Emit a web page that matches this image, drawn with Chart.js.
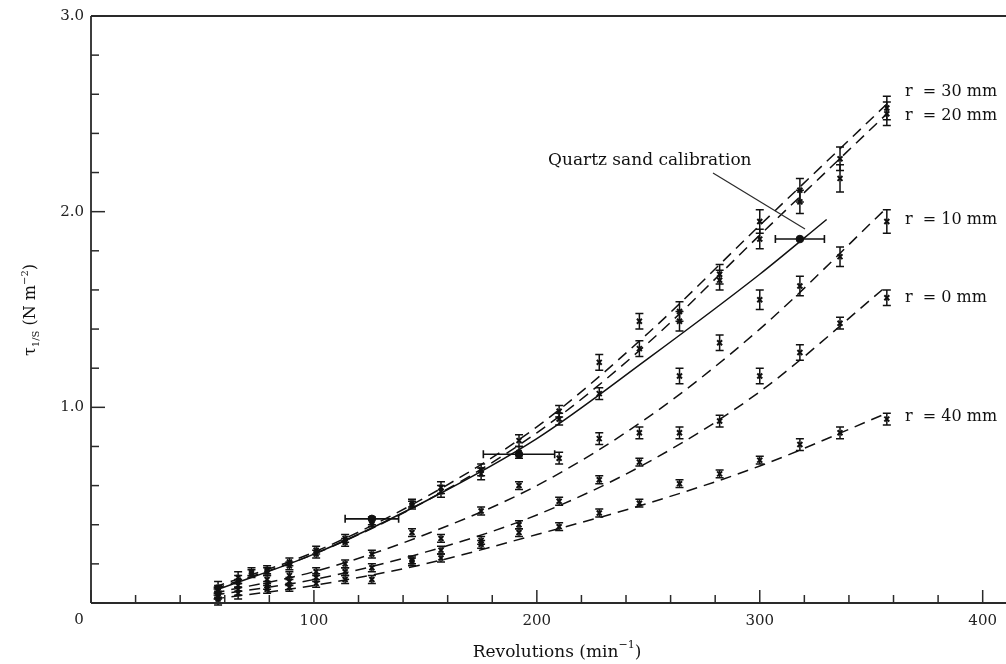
<!DOCTYPE html>
<html><head><meta charset="utf-8">
<script src="https://cdn.jsdelivr.net/npm/chart.js@4.4.1/dist/chart.umd.min.js"></script>
<style>html,body{margin:0;padding:0;background:#fff;}canvas{display:block;}</style>
</head><body>
<canvas id="c" width="1006" height="664"></canvas>
<script>
// ---------- data ----------
const revsA = [57, 66, 72, 79, 89, 101, 114, 126, 144, 157, 175, 192, 210, 228, 246, 264, 282, 300, 318, 336, 357];
const revsB = [57, 66, 79, 89, 101, 114, 126, 144, 157, 175, 192, 210, 228, 246, 264, 282, 300, 318, 336, 357];

const r30Y   = [0.08, 0.13, 0.16, 0.17, 0.21, 0.27, 0.33, 0.42, 0.51, 0.59, 0.68, 0.83, 0.98, 1.23, 1.44, 1.49, 1.68, 1.95, 2.11, 2.27, 2.53];
const r30Err = [0.03, 0.03, 0.02, 0.02, 0.02, 0.02, 0.02, 0.02, 0.02, 0.03, 0.03, 0.03, 0.03, 0.04, 0.04, 0.05, 0.05, 0.06, 0.06, 0.06, 0.06];
const r20Y   = [0.06, 0.11, 0.15, 0.16, 0.19, 0.25, 0.31, 0.41, 0.50, 0.57, 0.66, 0.77, 0.94, 1.07, 1.30, 1.44, 1.65, 1.86, 2.05, 2.17, 2.50];
const r20Err = [0.03, 0.03, 0.02, 0.02, 0.02, 0.02, 0.02, 0.02, 0.02, 0.03, 0.03, 0.03, 0.03, 0.03, 0.04, 0.05, 0.05, 0.05, 0.06, 0.07, 0.06];
const r10Y   = [0.05, 0.09, 0.12, 0.14, 0.16, 0.20, 0.25, 0.36, 0.33, 0.47, 0.60, 0.74, 0.84, 0.87, 1.16, 1.33, 1.55, 1.62, 1.77, 1.95];
const r10Err = [0.03, 0.03, 0.02, 0.02, 0.02, 0.02, 0.02, 0.02, 0.02, 0.02, 0.02, 0.03, 0.03, 0.03, 0.04, 0.04, 0.05, 0.05, 0.05, 0.06];
const r0Y    = [0.03, 0.07, 0.09, 0.11, 0.13, 0.16, 0.18, 0.22, 0.27, 0.32, 0.40, 0.52, 0.63, 0.72, 0.87, 0.93, 1.16, 1.28, 1.43, 1.56];
const r0Err  = [0.03, 0.03, 0.02, 0.02, 0.02, 0.02, 0.02, 0.02, 0.02, 0.02, 0.02, 0.02, 0.02, 0.02, 0.03, 0.03, 0.04, 0.04, 0.03, 0.04];
const r40Y   = [0.02, 0.05, 0.07, 0.08, 0.10, 0.12, 0.12, 0.21, 0.23, 0.30, 0.36, 0.39, 0.46, 0.51, 0.61, 0.66, 0.73, 0.81, 0.87, 0.94];
const r40Err = [0.03, 0.03, 0.02, 0.02, 0.02, 0.02, 0.02, 0.02, 0.02, 0.02, 0.02, 0.02, 0.02, 0.02, 0.02, 0.02, 0.02, 0.03, 0.03, 0.03];

// fitted (dashed) curves, read at these revolutions
const fitX   = [55, 100, 150, 200, 250, 300, 357];
const r30Fit = [0.08, 0.26, 0.54, 0.90, 1.38, 1.93, 2.55];
const r20Fit = [0.07, 0.25, 0.52, 0.87, 1.33, 1.88, 2.50];
const r10Fit = [0.05, 0.16, 0.35, 0.60, 0.95, 1.40, 2.02];
const r0Fit  = [0.04, 0.12, 0.26, 0.45, 0.72, 1.08, 1.62];
const r40Fit = [0.02, 0.09, 0.20, 0.35, 0.51, 0.70, 0.97];

// quartz sand calibration (solid curve + points with horizontal error bars)
const calLineX = [57, 100, 150, 200, 250, 300, 330];
const calLineY = [0.07, 0.25, 0.52, 0.84, 1.25, 1.68, 1.96];
const calX     = [126, 192, 318];
const calY     = [0.43, 0.76, 1.86];
const calXErr  = [12, 16, 11];

const seriesLabels = ['r  = 30 mm', 'r  = 20 mm', 'r  = 10 mm', 'r  = 0 mm', 'r  = 40 mm'];
const labelY       = [2.61, 2.49, 1.96, 1.56, 0.95];
const xTitle = 'Revolutions (min';
const annotation = 'Quartz sand calibration';

// ---------- helpers ----------
const pts = (xs, ys) => xs.map((x, i) => ({x, y: ys[i]}));
const SERIF = '"DejaVu Serif", "Liberation Serif", serif';
const INK = '#111';

function fitDs(xs, ys, solid) {
  return {type: 'line', data: pts(xs, ys), borderColor: INK, borderWidth: 1.5,
    borderDash: solid ? [] : [11, 7], pointRadius: 0, tension: 0.4, cubicInterpolationMode: 'monotone', fill: false, order: 2};
}
function ptDs(xs, ys, errs) {
  return {type: 'scatter', data: pts(xs, ys), errY: errs, pointStyle: 'crossRot', pointRadius: 3.5,
    borderColor: INK, backgroundColor: INK, borderWidth: 2, order: 1};
}

const datasets = [
  fitDs(fitX, r30Fit), fitDs(fitX, r20Fit), fitDs(fitX, r10Fit), fitDs(fitX, r0Fit), fitDs(fitX, r40Fit),
  fitDs(calLineX, calLineY, true),
  ptDs(revsA, r30Y, r30Err), ptDs(revsA, r20Y, r20Err), ptDs(revsB, r10Y, r10Err),
  ptDs(revsB, r0Y, r0Err), ptDs(revsB, r40Y, r40Err),
  {type: 'scatter', data: pts(calX, calY), errX: calXErr, pointStyle: 'circle', pointRadius: 3.8,
    borderColor: INK, backgroundColor: INK, borderWidth: 1, order: 0}
];

const decor = {
  id: 'decor',
  afterDatasetsDraw(chart) {
    const {ctx, chartArea: a, scales: {x, y}} = chart;
    ctx.save();
    ctx.strokeStyle = INK; ctx.fillStyle = INK;
    // error bars
    chart.data.datasets.forEach(ds => {
      if (ds.errY) {
        ctx.lineWidth = 1.5;
        ds.data.forEach((p, i) => {
          const px = x.getPixelForValue(p.x);
          const t = y.getPixelForValue(p.y + ds.errY[i]), b = y.getPixelForValue(p.y - ds.errY[i]);
          ctx.beginPath();
          ctx.moveTo(px, t); ctx.lineTo(px, b);
          ctx.moveTo(px - 4, t); ctx.lineTo(px + 4, t);
          ctx.moveTo(px - 4, b); ctx.lineTo(px + 4, b);
          ctx.stroke();
        });
      }
      if (ds.errX) {
        ctx.lineWidth = 1.6;
        ds.data.forEach((p, i) => {
          const py = y.getPixelForValue(p.y);
          const l = x.getPixelForValue(p.x - ds.errX[i]), r = x.getPixelForValue(p.x + ds.errX[i]);
          ctx.beginPath();
          ctx.moveTo(l, py); ctx.lineTo(r, py);
          ctx.moveTo(l, py - 4); ctx.lineTo(l, py + 4);
          ctx.moveTo(r, py - 4); ctx.lineTo(r, py + 4);
          ctx.stroke();
        });
      }
    });
    // axes lines (top and bottom run to the right edge)
    ctx.lineWidth = 1.8; ctx.strokeStyle = '#2a2a2a';
    ctx.beginPath();
    ctx.moveTo(a.left, a.top); ctx.lineTo(chart.width, a.top);
    ctx.moveTo(a.left, a.top); ctx.lineTo(a.left, a.bottom);
    ctx.moveTo(a.left, a.bottom); ctx.lineTo(chart.width, a.bottom);
    ctx.stroke();
    // inward tick marks
    ctx.lineWidth = 1.5;
    x.ticks.forEach(t => {
      const px = x.getPixelForValue(t.value);
      const major = Math.abs(t.value % 100) < 1e-6;
      ctx.beginPath(); ctx.moveTo(px, a.bottom); ctx.lineTo(px, a.bottom - (major ? 13 : 8)); ctx.stroke();
    });
    y.ticks.forEach(t => {
      const py = y.getPixelForValue(t.value);
      const major = Math.abs(t.value - Math.round(t.value)) < 1e-6;
      ctx.beginPath(); ctx.moveTo(a.left, py); ctx.lineTo(a.left + (major ? 14 : 8), py); ctx.stroke();
    });
    // origin label
    ctx.font = '15px ' + SERIF; ctx.textAlign = 'center'; ctx.textBaseline = 'middle';
    ctx.fillStyle = '#222';
    ctx.fillText('0', 79, 620);
    // series labels
    ctx.textAlign = 'left'; ctx.fillStyle = INK;
    ctx.font = '16px ' + SERIF;
    seriesLabels.forEach((s, i) => ctx.fillText(s, 905, y.getPixelForValue(labelY[i])));
    // annotation
    ctx.font = '17px ' + SERIF;
    ctx.fillText(annotation, 548, 161);
    ctx.lineWidth = 1.2;
    ctx.beginPath(); ctx.moveTo(713, 173); ctx.lineTo(805, 229); ctx.stroke();
    // x title
    ctx.font = '17px ' + SERIF;
    const w1 = ctx.measureText(xTitle).width;
    ctx.font = '11px ' + SERIF;
    const w2 = ctx.measureText('\u22121').width;
    ctx.font = '17px ' + SERIF;
    const w3 = ctx.measureText(')').width;
    let sx = 557 - (w1 + w2 + w3) / 2;
    ctx.textBaseline = 'alphabetic';
    ctx.fillText(xTitle, sx, 657); sx += w1;
    ctx.font = '11px ' + SERIF; ctx.fillText('\u22121', sx, 648); sx += w2;
    ctx.font = '17px ' + SERIF; ctx.fillText(')', sx, 657);
    // y title (rotated)
    ctx.save();
    ctx.translate(30, 310); ctx.rotate(-Math.PI / 2);
    const parts = [['\u03c4', 16, 0], ['1/S', 10, 4], [' (N m', 16, 0], ['\u22122', 10, -7], [')', 16, 0]];
    let tw = 0;
    parts.forEach(p => { ctx.font = p[1] + 'px ' + SERIF; tw += ctx.measureText(p[0]).width; });
    let cx = -tw / 2;
    parts.forEach(p => { ctx.font = p[1] + 'px ' + SERIF; ctx.fillText(p[0], cx, 5 + p[2]); cx += ctx.measureText(p[0]).width; });
    ctx.restore();
    ctx.restore();
  }
};

new Chart(document.getElementById('c'), {
  type: 'scatter',
  data: {datasets},
  options: {
    responsive: false, animation: false, devicePixelRatio: 1,
    layout: {padding: {left: 0, right: 20, top: 15, bottom: 0}},
    plugins: {legend: {display: false}, tooltip: {enabled: false}},
    scales: {
      x: {type: 'linear', min: 0, max: 400,
        grid: {display: false, drawTicks: false}, border: {display: false},
        ticks: {stepSize: 20, autoSkip: false, maxRotation: 0, padding: 9, color: '#222',
          font: {family: SERIF, size: 15},
          callback: v => (v > 0 && v % 100 === 0) ? String(v) : ''},
        afterFit: s => { s.height = 61; }},
      y: {type: 'linear', min: 0, max: 3,
        grid: {display: false, drawTicks: false}, border: {display: false},
        ticks: {stepSize: 0.2, autoSkip: false, padding: 7, color: '#222',
          font: {family: SERIF, size: 15},
          callback: v => (v > 0.5 && Math.abs(v - Math.round(v)) < 1e-6) ? Number(v).toFixed(1) : ''},
        afterFit: s => { s.width = 91; }}
    }
  },
  plugins: [decor]
});
</script>
</body></html>
